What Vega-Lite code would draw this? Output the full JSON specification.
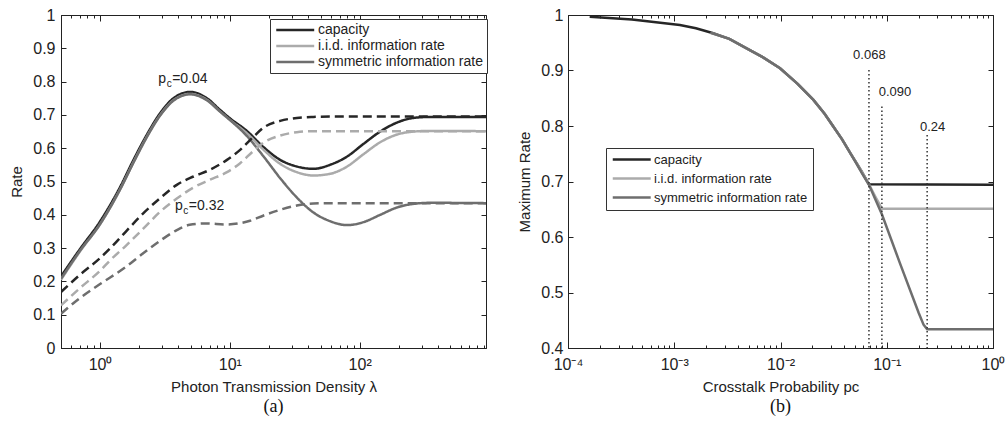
{
  "$schema": "https://vega.github.io/schema/vega-lite/v6.json",
  "background": "white",
  "padding": {"left": 9, "top": 6, "right": 0, "bottom": 0},
  "spacing": 29,
  "config": {
    "font": "Liberation Sans",
    "view": {"stroke": "#222", "strokeWidth": 1},
    "axis": {
      "grid": false,
      "labelFont": "Liberation Sans",
      "labelFontSize": 16,
      "labelColor": "#222",
      "titleFont": "Liberation Sans",
      "titleFontSize": 15,
      "titleFontWeight": "normal",
      "titleColor": "#222",
      "tickColor": "#222",
      "domainColor": "#222",
      "labelFlush": false,
      "labelOverlap": false
    },
    "legend": {
      "symbolType": "M-1,0H7",
      "symbolStrokeWidth": 2.5,
      "symbolSize": 90,
      "labelFont": "Liberation Sans",
      "labelColor": "#222",
      "strokeColor": "#333",
      "fillColor": "white",
      "labelOffset": 30,
      "cornerRadius": 0,
      "labelLimit": 400
    },
    "title": {"font": "Liberation Serif", "fontSize": 18, "fontWeight": "normal", "color": "#111"}
  },
  "resolve": {"scale": {"color": "independent"}, "legend": {"color": "independent"}},
  "datasets": {
    "a": [
      {"lam": 0.5, "rate": 0.215, "metric": "capacity", "pc": "0.04"},
      {"lam": 0.7, "rate": 0.297, "metric": "capacity", "pc": "0.04"},
      {"lam": 1, "rate": 0.38, "metric": "capacity", "pc": "0.04"},
      {"lam": 1.43, "rate": 0.484, "metric": "capacity", "pc": "0.04"},
      {"lam": 1.81, "rate": 0.565, "metric": "capacity", "pc": "0.04"},
      {"lam": 2.29, "rate": 0.64, "metric": "capacity", "pc": "0.04"},
      {"lam": 2.9, "rate": 0.705, "metric": "capacity", "pc": "0.04"},
      {"lam": 3.68, "rate": 0.75, "metric": "capacity", "pc": "0.04"},
      {"lam": 4.94, "rate": 0.769, "metric": "capacity", "pc": "0.04"},
      {"lam": 6.65, "rate": 0.75, "metric": "capacity", "pc": "0.04"},
      {"lam": 8.4, "rate": 0.715, "metric": "capacity", "pc": "0.04"},
      {"lam": 10, "rate": 0.69, "metric": "capacity", "pc": "0.04"},
      {"lam": 13.5, "rate": 0.652, "metric": "capacity", "pc": "0.04"},
      {"lam": 18.2, "rate": 0.603, "metric": "capacity", "pc": "0.04"},
      {"lam": 24.4, "rate": 0.565, "metric": "capacity", "pc": "0.04"},
      {"lam": 32.8, "rate": 0.545, "metric": "capacity", "pc": "0.04"},
      {"lam": 44, "rate": 0.538, "metric": "capacity", "pc": "0.04"},
      {"lam": 59, "rate": 0.55, "metric": "capacity", "pc": "0.04"},
      {"lam": 80, "rate": 0.575, "metric": "capacity", "pc": "0.04"},
      {"lam": 107, "rate": 0.613, "metric": "capacity", "pc": "0.04"},
      {"lam": 144, "rate": 0.65, "metric": "capacity", "pc": "0.04"},
      {"lam": 194, "rate": 0.677, "metric": "capacity", "pc": "0.04"},
      {"lam": 261, "rate": 0.691, "metric": "capacity", "pc": "0.04"},
      {"lam": 350, "rate": 0.694, "metric": "capacity", "pc": "0.04"},
      {"lam": 940, "rate": 0.694, "metric": "capacity", "pc": "0.04"},

      {"lam": 0.5, "rate": 0.205, "metric": "i.i.d. information rate", "pc": "0.04"},
      {"lam": 0.7, "rate": 0.29, "metric": "i.i.d. information rate", "pc": "0.04"},
      {"lam": 1, "rate": 0.372, "metric": "i.i.d. information rate", "pc": "0.04"},
      {"lam": 1.43, "rate": 0.477, "metric": "i.i.d. information rate", "pc": "0.04"},
      {"lam": 1.81, "rate": 0.558, "metric": "i.i.d. information rate", "pc": "0.04"},
      {"lam": 2.29, "rate": 0.634, "metric": "i.i.d. information rate", "pc": "0.04"},
      {"lam": 2.9, "rate": 0.699, "metric": "i.i.d. information rate", "pc": "0.04"},
      {"lam": 3.68, "rate": 0.744, "metric": "i.i.d. information rate", "pc": "0.04"},
      {"lam": 4.94, "rate": 0.763, "metric": "i.i.d. information rate", "pc": "0.04"},
      {"lam": 6.65, "rate": 0.745, "metric": "i.i.d. information rate", "pc": "0.04"},
      {"lam": 8.4, "rate": 0.71, "metric": "i.i.d. information rate", "pc": "0.04"},
      {"lam": 10, "rate": 0.685, "metric": "i.i.d. information rate", "pc": "0.04"},
      {"lam": 13.5, "rate": 0.645, "metric": "i.i.d. information rate", "pc": "0.04"},
      {"lam": 18.2, "rate": 0.595, "metric": "i.i.d. information rate", "pc": "0.04"},
      {"lam": 24.4, "rate": 0.553, "metric": "i.i.d. information rate", "pc": "0.04"},
      {"lam": 32.8, "rate": 0.528, "metric": "i.i.d. information rate", "pc": "0.04"},
      {"lam": 44, "rate": 0.518, "metric": "i.i.d. information rate", "pc": "0.04"},
      {"lam": 59, "rate": 0.523, "metric": "i.i.d. information rate", "pc": "0.04"},
      {"lam": 80, "rate": 0.545, "metric": "i.i.d. information rate", "pc": "0.04"},
      {"lam": 107, "rate": 0.582, "metric": "i.i.d. information rate", "pc": "0.04"},
      {"lam": 144, "rate": 0.618, "metric": "i.i.d. information rate", "pc": "0.04"},
      {"lam": 194, "rate": 0.641, "metric": "i.i.d. information rate", "pc": "0.04"},
      {"lam": 261, "rate": 0.65, "metric": "i.i.d. information rate", "pc": "0.04"},
      {"lam": 350, "rate": 0.652, "metric": "i.i.d. information rate", "pc": "0.04"},
      {"lam": 940, "rate": 0.651, "metric": "i.i.d. information rate", "pc": "0.04"},

      {"lam": 0.5, "rate": 0.208, "metric": "symmetric information rate", "pc": "0.04"},
      {"lam": 0.7, "rate": 0.292, "metric": "symmetric information rate", "pc": "0.04"},
      {"lam": 1, "rate": 0.372, "metric": "symmetric information rate", "pc": "0.04"},
      {"lam": 1.43, "rate": 0.477, "metric": "symmetric information rate", "pc": "0.04"},
      {"lam": 1.81, "rate": 0.557, "metric": "symmetric information rate", "pc": "0.04"},
      {"lam": 2.29, "rate": 0.633, "metric": "symmetric information rate", "pc": "0.04"},
      {"lam": 2.9, "rate": 0.698, "metric": "symmetric information rate", "pc": "0.04"},
      {"lam": 3.68, "rate": 0.743, "metric": "symmetric information rate", "pc": "0.04"},
      {"lam": 4.94, "rate": 0.762, "metric": "symmetric information rate", "pc": "0.04"},
      {"lam": 6.65, "rate": 0.744, "metric": "symmetric information rate", "pc": "0.04"},
      {"lam": 8.4, "rate": 0.71, "metric": "symmetric information rate", "pc": "0.04"},
      {"lam": 10, "rate": 0.685, "metric": "symmetric information rate", "pc": "0.04"},
      {"lam": 13.5, "rate": 0.637, "metric": "symmetric information rate", "pc": "0.04"},
      {"lam": 18.2, "rate": 0.575, "metric": "symmetric information rate", "pc": "0.04"},
      {"lam": 24.4, "rate": 0.51, "metric": "symmetric information rate", "pc": "0.04"},
      {"lam": 32.8, "rate": 0.452, "metric": "symmetric information rate", "pc": "0.04"},
      {"lam": 44, "rate": 0.407, "metric": "symmetric information rate", "pc": "0.04"},
      {"lam": 59, "rate": 0.381, "metric": "symmetric information rate", "pc": "0.04"},
      {"lam": 80, "rate": 0.369, "metric": "symmetric information rate", "pc": "0.04"},
      {"lam": 107, "rate": 0.378, "metric": "symmetric information rate", "pc": "0.04"},
      {"lam": 144, "rate": 0.4, "metric": "symmetric information rate", "pc": "0.04"},
      {"lam": 194, "rate": 0.422, "metric": "symmetric information rate", "pc": "0.04"},
      {"lam": 261, "rate": 0.433, "metric": "symmetric information rate", "pc": "0.04"},
      {"lam": 350, "rate": 0.436, "metric": "symmetric information rate", "pc": "0.04"},
      {"lam": 940, "rate": 0.435, "metric": "symmetric information rate", "pc": "0.04"},

      {"lam": 0.5, "rate": 0.168, "metric": "capacity", "pc": "0.32"},
      {"lam": 0.7, "rate": 0.22, "metric": "capacity", "pc": "0.32"},
      {"lam": 1, "rate": 0.27, "metric": "capacity", "pc": "0.32"},
      {"lam": 1.2, "rate": 0.3, "metric": "capacity", "pc": "0.32"},
      {"lam": 1.6, "rate": 0.352, "metric": "capacity", "pc": "0.32"},
      {"lam": 2.16, "rate": 0.405, "metric": "capacity", "pc": "0.32"},
      {"lam": 2.9, "rate": 0.45, "metric": "capacity", "pc": "0.32"},
      {"lam": 3.9, "rate": 0.49, "metric": "capacity", "pc": "0.32"},
      {"lam": 5.25, "rate": 0.515, "metric": "capacity", "pc": "0.32"},
      {"lam": 7, "rate": 0.535, "metric": "capacity", "pc": "0.32"},
      {"lam": 9.5, "rate": 0.565, "metric": "capacity", "pc": "0.32"},
      {"lam": 12, "rate": 0.595, "metric": "capacity", "pc": "0.32"},
      {"lam": 15, "rate": 0.632, "metric": "capacity", "pc": "0.32"},
      {"lam": 18.2, "rate": 0.662, "metric": "capacity", "pc": "0.32"},
      {"lam": 24.4, "rate": 0.682, "metric": "capacity", "pc": "0.32"},
      {"lam": 32.8, "rate": 0.691, "metric": "capacity", "pc": "0.32"},
      {"lam": 44, "rate": 0.694, "metric": "capacity", "pc": "0.32"},
      {"lam": 60, "rate": 0.695, "metric": "capacity", "pc": "0.32"},
      {"lam": 940, "rate": 0.695, "metric": "capacity", "pc": "0.32"},

      {"lam": 0.5, "rate": 0.128, "metric": "i.i.d. information rate", "pc": "0.32"},
      {"lam": 0.7, "rate": 0.18, "metric": "i.i.d. information rate", "pc": "0.32"},
      {"lam": 1, "rate": 0.232, "metric": "i.i.d. information rate", "pc": "0.32"},
      {"lam": 1.2, "rate": 0.264, "metric": "i.i.d. information rate", "pc": "0.32"},
      {"lam": 1.6, "rate": 0.309, "metric": "i.i.d. information rate", "pc": "0.32"},
      {"lam": 2.16, "rate": 0.359, "metric": "i.i.d. information rate", "pc": "0.32"},
      {"lam": 2.9, "rate": 0.409, "metric": "i.i.d. information rate", "pc": "0.32"},
      {"lam": 3.9, "rate": 0.449, "metric": "i.i.d. information rate", "pc": "0.32"},
      {"lam": 5.25, "rate": 0.482, "metric": "i.i.d. information rate", "pc": "0.32"},
      {"lam": 7, "rate": 0.505, "metric": "i.i.d. information rate", "pc": "0.32"},
      {"lam": 9.5, "rate": 0.528, "metric": "i.i.d. information rate", "pc": "0.32"},
      {"lam": 12, "rate": 0.555, "metric": "i.i.d. information rate", "pc": "0.32"},
      {"lam": 15, "rate": 0.59, "metric": "i.i.d. information rate", "pc": "0.32"},
      {"lam": 18.2, "rate": 0.617, "metric": "i.i.d. information rate", "pc": "0.32"},
      {"lam": 24.4, "rate": 0.638, "metric": "i.i.d. information rate", "pc": "0.32"},
      {"lam": 32.8, "rate": 0.648, "metric": "i.i.d. information rate", "pc": "0.32"},
      {"lam": 44, "rate": 0.651, "metric": "i.i.d. information rate", "pc": "0.32"},
      {"lam": 940, "rate": 0.651, "metric": "i.i.d. information rate", "pc": "0.32"},

      {"lam": 0.5, "rate": 0.103, "metric": "symmetric information rate", "pc": "0.32"},
      {"lam": 0.7, "rate": 0.15, "metric": "symmetric information rate", "pc": "0.32"},
      {"lam": 1, "rate": 0.192, "metric": "symmetric information rate", "pc": "0.32"},
      {"lam": 1.6, "rate": 0.245, "metric": "symmetric information rate", "pc": "0.32"},
      {"lam": 2.16, "rate": 0.285, "metric": "symmetric information rate", "pc": "0.32"},
      {"lam": 2.9, "rate": 0.322, "metric": "symmetric information rate", "pc": "0.32"},
      {"lam": 3.9, "rate": 0.354, "metric": "symmetric information rate", "pc": "0.32"},
      {"lam": 4.9, "rate": 0.37, "metric": "symmetric information rate", "pc": "0.32"},
      {"lam": 6.5, "rate": 0.374, "metric": "symmetric information rate", "pc": "0.32"},
      {"lam": 9.5, "rate": 0.371, "metric": "symmetric information rate", "pc": "0.32"},
      {"lam": 12, "rate": 0.375, "metric": "symmetric information rate", "pc": "0.32"},
      {"lam": 14.3, "rate": 0.382, "metric": "symmetric information rate", "pc": "0.32"},
      {"lam": 18.2, "rate": 0.398, "metric": "symmetric information rate", "pc": "0.32"},
      {"lam": 24.4, "rate": 0.415, "metric": "symmetric information rate", "pc": "0.32"},
      {"lam": 32.8, "rate": 0.428, "metric": "symmetric information rate", "pc": "0.32"},
      {"lam": 44, "rate": 0.434, "metric": "symmetric information rate", "pc": "0.32"},
      {"lam": 60, "rate": 0.435, "metric": "symmetric information rate", "pc": "0.32"},
      {"lam": 940, "rate": 0.435, "metric": "symmetric information rate", "pc": "0.32"}
    ],
    "notesA": [
      {"lam": 3.23, "rate": 0.795, "main": "p", "sub": "c", "rest": "=0.04"},
      {"lam": 4.34, "rate": 0.414, "main": "p", "sub": "c", "rest": "=0.32"}
    ],
    "b": [
      {"p": 0.00016, "rate": 0.997, "metric": "capacity"},
      {"p": 0.0004, "rate": 0.992, "metric": "capacity"},
      {"p": 0.00113, "rate": 0.982, "metric": "capacity"},
      {"p": 0.0016, "rate": 0.976, "metric": "capacity"},
      {"p": 0.00233, "rate": 0.967, "metric": "capacity"},
      {"p": 0.0033, "rate": 0.957, "metric": "capacity"},
      {"p": 0.0048, "rate": 0.94, "metric": "capacity"},
      {"p": 0.0068, "rate": 0.924, "metric": "capacity"},
      {"p": 0.0099, "rate": 0.904, "metric": "capacity"},
      {"p": 0.0145, "rate": 0.876, "metric": "capacity"},
      {"p": 0.0204, "rate": 0.847, "metric": "capacity"},
      {"p": 0.026, "rate": 0.822, "metric": "capacity"},
      {"p": 0.0314, "rate": 0.799, "metric": "capacity"},
      {"p": 0.038, "rate": 0.776, "metric": "capacity"},
      {"p": 0.0454, "rate": 0.751, "metric": "capacity"},
      {"p": 0.052, "rate": 0.733, "metric": "capacity"},
      {"p": 0.058, "rate": 0.718, "metric": "capacity"},
      {"p": 0.068, "rate": 0.695, "metric": "capacity"},
      {"p": 1, "rate": 0.694, "metric": "capacity"},

      {"p": 0.0022, "rate": 0.968, "metric": "i.i.d. information rate"},
      {"p": 0.0033, "rate": 0.957, "metric": "i.i.d. information rate"},
      {"p": 0.0048, "rate": 0.94, "metric": "i.i.d. information rate"},
      {"p": 0.0068, "rate": 0.924, "metric": "i.i.d. information rate"},
      {"p": 0.0099, "rate": 0.904, "metric": "i.i.d. information rate"},
      {"p": 0.0145, "rate": 0.876, "metric": "i.i.d. information rate"},
      {"p": 0.0204, "rate": 0.847, "metric": "i.i.d. information rate"},
      {"p": 0.026, "rate": 0.822, "metric": "i.i.d. information rate"},
      {"p": 0.0314, "rate": 0.799, "metric": "i.i.d. information rate"},
      {"p": 0.038, "rate": 0.776, "metric": "i.i.d. information rate"},
      {"p": 0.0454, "rate": 0.751, "metric": "i.i.d. information rate"},
      {"p": 0.052, "rate": 0.733, "metric": "i.i.d. information rate"},
      {"p": 0.058, "rate": 0.718, "metric": "i.i.d. information rate"},
      {"p": 0.068, "rate": 0.695, "metric": "i.i.d. information rate"},
      {"p": 0.078, "rate": 0.673, "metric": "i.i.d. information rate"},
      {"p": 0.09, "rate": 0.651, "metric": "i.i.d. information rate"},
      {"p": 1, "rate": 0.651, "metric": "i.i.d. information rate"},

      {"p": 0.0022, "rate": 0.968, "metric": "symmetric information rate"},
      {"p": 0.0033, "rate": 0.957, "metric": "symmetric information rate"},
      {"p": 0.0048, "rate": 0.94, "metric": "symmetric information rate"},
      {"p": 0.0068, "rate": 0.924, "metric": "symmetric information rate"},
      {"p": 0.0099, "rate": 0.904, "metric": "symmetric information rate"},
      {"p": 0.0145, "rate": 0.876, "metric": "symmetric information rate"},
      {"p": 0.0204, "rate": 0.847, "metric": "symmetric information rate"},
      {"p": 0.026, "rate": 0.822, "metric": "symmetric information rate"},
      {"p": 0.0314, "rate": 0.799, "metric": "symmetric information rate"},
      {"p": 0.038, "rate": 0.776, "metric": "symmetric information rate"},
      {"p": 0.0454, "rate": 0.751, "metric": "symmetric information rate"},
      {"p": 0.052, "rate": 0.732, "metric": "symmetric information rate"},
      {"p": 0.058, "rate": 0.716, "metric": "symmetric information rate"},
      {"p": 0.068, "rate": 0.694, "metric": "symmetric information rate"},
      {"p": 0.09, "rate": 0.641, "metric": "symmetric information rate"},
      {"p": 0.133, "rate": 0.553, "metric": "symmetric information rate"},
      {"p": 0.2, "rate": 0.463, "metric": "symmetric information rate"},
      {"p": 0.222, "rate": 0.442, "metric": "symmetric information rate"},
      {"p": 0.24, "rate": 0.434, "metric": "symmetric information rate"},
      {"p": 1, "rate": 0.434, "metric": "symmetric information rate"}
    ],
    "thresholds": [
      {"p": 0.068, "top": 0.901, "labelP": 0.0686, "labelRate": 0.928, "label": "0.068"},
      {"p": 0.09, "top": 0.835, "labelP": 0.1197, "labelRate": 0.862, "label": "0.090"},
      {"p": 0.24, "top": 0.784, "labelP": 0.27, "labelRate": 0.798, "label": "0.24"}
    ]
  },
  "hconcat": [
    {
      "width": 425,
      "height": 333,
      "title": {"text": "(a)", "orient": "bottom", "offset": 4},
      "resolve": {"axis": {"x": "independent", "y": "independent"}},
      "layer": [
        {
          "data": {"name": "a"},
          "mark": {"type": "line", "interpolate": "monotone", "strokeWidth": 2.5, "clip": true},
          "encoding": {
            "x": {
              "field": "lam", "type": "quantitative",
              "scale": {"type": "log", "domain": [0.5, 940], "nice": false},
              "axis": {
                "orient": "bottom",
                "values": [0.5,0.6,0.7,0.8,0.9,1,2,3,4,5,6,7,8,9,10,20,30,40,50,60,70,80,90,100,200,300,400,500,600,700,800,900],
                "labelExpr": "abs(log(datum.value)/LN10 - round(log(datum.value)/LN10)) < 1e-6 ? '10' + ['⁻⁴','⁻³','⁻²','⁻¹','⁰','¹','²','³'][round(log(datum.value)/LN10) + 4] : ''",
                "tickSize": {"condition": {"test": "abs(log(datum.value)/LN10 - round(log(datum.value)/LN10)) < 1e-6", "value": -6}, "value": -3},
                "labelPadding": 14,
                "labelFontSize": 16,
                "title": "Photon Transmission Density λ",
                "titlePadding": 4
              }
            },
            "y": {
              "field": "rate", "type": "quantitative",
              "scale": {"domain": [0, 1], "nice": false, "zero": false},
              "axis": {
                "orient": "left",
                "values": [0,0.1,0.2,0.3,0.4,0.5,0.6,0.7,0.8,0.9,1],
                "format": "~g",
                "tickSize": -5,
                "labelPadding": 11,
                "labelFontSize": 16,
                "title": "Rate",
                "titlePadding": 8
              }
            },
            "color": {
              "field": "metric", "type": "nominal",
              "scale": {"domain": ["capacity", "i.i.d. information rate", "symmetric information rate"], "range": ["#262626", "#ababab", "#6e6e6e"]},
              "legend": {"orient": "none", "legendX": 209, "legendY": 4, "title": null, "padding": 4, "rowPadding": 2, "labelFontSize": 14}
            },
            "strokeDash": {
              "field": "pc", "type": "nominal",
              "scale": {"domain": ["0.04", "0.32"], "range": [[1, 0], [9, 5]]},
              "legend": null
            },
            "detail": {"field": "pc", "type": "nominal"}
          }
        },
        {
          "data": {"name": "notesA"},
          "mark": {"type": "text", "align": "right", "baseline": "alphabetic", "fontSize": 14, "color": "#222"},
          "encoding": {
            "x": {
              "field": "lam", "type": "quantitative",
              "axis": {
                "orient": "top",
                "values": [0.5,0.6,0.7,0.8,0.9,1,2,3,4,5,6,7,8,9,10,20,30,40,50,60,70,80,90,100,200,300,400,500,600,700,800,900],
                "labels": false, "title": null, "domain": false,
                "tickSize": {"condition": {"test": "abs(log(datum.value)/LN10 - round(log(datum.value)/LN10)) < 1e-6", "value": -6}, "value": -3}
              }
            },
            "y": {
              "field": "rate", "type": "quantitative",
              "axis": {"orient": "right", "values": [0,0.1,0.2,0.3,0.4,0.5,0.6,0.7,0.8,0.9,1], "labels": false, "title": null, "domain": false, "tickSize": -5}
            },
            "text": {"field": "main", "type": "nominal"}
          }
        },
        {
          "data": {"name": "notesA"},
          "mark": {"type": "text", "align": "left", "baseline": "alphabetic", "fontSize": 10, "dx": 0.5, "dy": 4, "color": "#222"},
          "encoding": {
            "x": {"field": "lam", "type": "quantitative", "axis": null},
            "y": {"field": "rate", "type": "quantitative", "axis": null},
            "text": {"field": "sub", "type": "nominal"}
          }
        },
        {
          "data": {"name": "notesA"},
          "mark": {"type": "text", "align": "left", "baseline": "alphabetic", "fontSize": 14, "dx": 6, "color": "#222"},
          "encoding": {
            "x": {"field": "lam", "type": "quantitative", "axis": null},
            "y": {"field": "rate", "type": "quantitative", "axis": null},
            "text": {"field": "rest", "type": "nominal"}
          }
        }
      ]
    },
    {
      "width": 425,
      "height": 333,
      "title": {"text": "(b)", "orient": "bottom", "offset": 4},
      "resolve": {"axis": {"x": "independent", "y": "independent"}},
      "layer": [
        {
          "data": {"name": "b"},
          "mark": {"type": "line", "strokeWidth": 2.5, "clip": true},
          "encoding": {
            "x": {
              "field": "p", "type": "quantitative",
              "scale": {"type": "log", "domain": [0.0001, 1], "nice": false},
              "axis": {
                "orient": "bottom",
                "values": [0.0001,0.0002,0.0003,0.0004,0.0005,0.0006,0.0007,0.0008,0.0009,0.001,0.002,0.003,0.004,0.005,0.006,0.007,0.008,0.009,0.01,0.02,0.03,0.04,0.05,0.06,0.07,0.08,0.09,0.1,0.2,0.3,0.4,0.5,0.6,0.7,0.8,0.9,1],
                "labelExpr": "abs(log(datum.value)/LN10 - round(log(datum.value)/LN10)) < 1e-6 ? '10' + ['⁻⁴','⁻³','⁻²','⁻¹','⁰','¹','²','³'][round(log(datum.value)/LN10) + 4] : ''",
                "tickSize": {"condition": {"test": "abs(log(datum.value)/LN10 - round(log(datum.value)/LN10)) < 1e-6", "value": -6}, "value": -3},
                "labelPadding": 14,
                "labelFontSize": 16,
                "title": "Crosstalk Probability pc",
                "titlePadding": 4
              }
            },
            "y": {
              "field": "rate", "type": "quantitative",
              "scale": {"domain": [0.4, 1], "nice": false, "zero": false},
              "axis": {
                "orient": "left",
                "values": [0.4,0.5,0.6,0.7,0.8,0.9,1],
                "format": "~g",
                "tickSize": -5,
                "labelPadding": 10,
                "labelFontSize": 16,
                "title": "Maximum Rate",
                "titlePadding": 8
              }
            },
            "color": {
              "field": "metric", "type": "nominal",
              "scale": {"domain": ["capacity", "i.i.d. information rate", "symmetric information rate"], "range": ["#262626", "#ababab", "#6e6e6e"]},
              "legend": {"orient": "none", "legendX": 38, "legendY": 133, "title": null, "padding": 5, "rowPadding": 5, "labelFontSize": 13}
            }
          }
        },
        {
          "data": {"name": "thresholds"},
          "mark": {"type": "rule", "strokeDash": [1.5, 2.5], "strokeWidth": 1.5, "color": "#333"},
          "encoding": {
            "x": {"field": "p", "type": "quantitative", "axis": null},
            "y": {"field": "top", "type": "quantitative", "axis": null},
            "y2": {"datum": 0.4}
          }
        },
        {
          "data": {"name": "thresholds"},
          "mark": {"type": "text", "align": "center", "baseline": "middle", "fontSize": 13, "color": "#222"},
          "encoding": {
            "x": {
              "field": "labelP", "type": "quantitative",
              "axis": {
                "orient": "top",
                "values": [0.0001,0.0002,0.0003,0.0004,0.0005,0.0006,0.0007,0.0008,0.0009,0.001,0.002,0.003,0.004,0.005,0.006,0.007,0.008,0.009,0.01,0.02,0.03,0.04,0.05,0.06,0.07,0.08,0.09,0.1,0.2,0.3,0.4,0.5,0.6,0.7,0.8,0.9,1],
                "labels": false, "title": null, "domain": false,
                "tickSize": {"condition": {"test": "abs(log(datum.value)/LN10 - round(log(datum.value)/LN10)) < 1e-6", "value": -6}, "value": -3}
              }
            },
            "y": {
              "field": "labelRate", "type": "quantitative",
              "axis": {"orient": "right", "values": [0.4,0.5,0.6,0.7,0.8,0.9,1], "labels": false, "title": null, "domain": false, "tickSize": -5}
            },
            "text": {"field": "label", "type": "nominal"}
          }
        }
      ]
    }
  ]
}
